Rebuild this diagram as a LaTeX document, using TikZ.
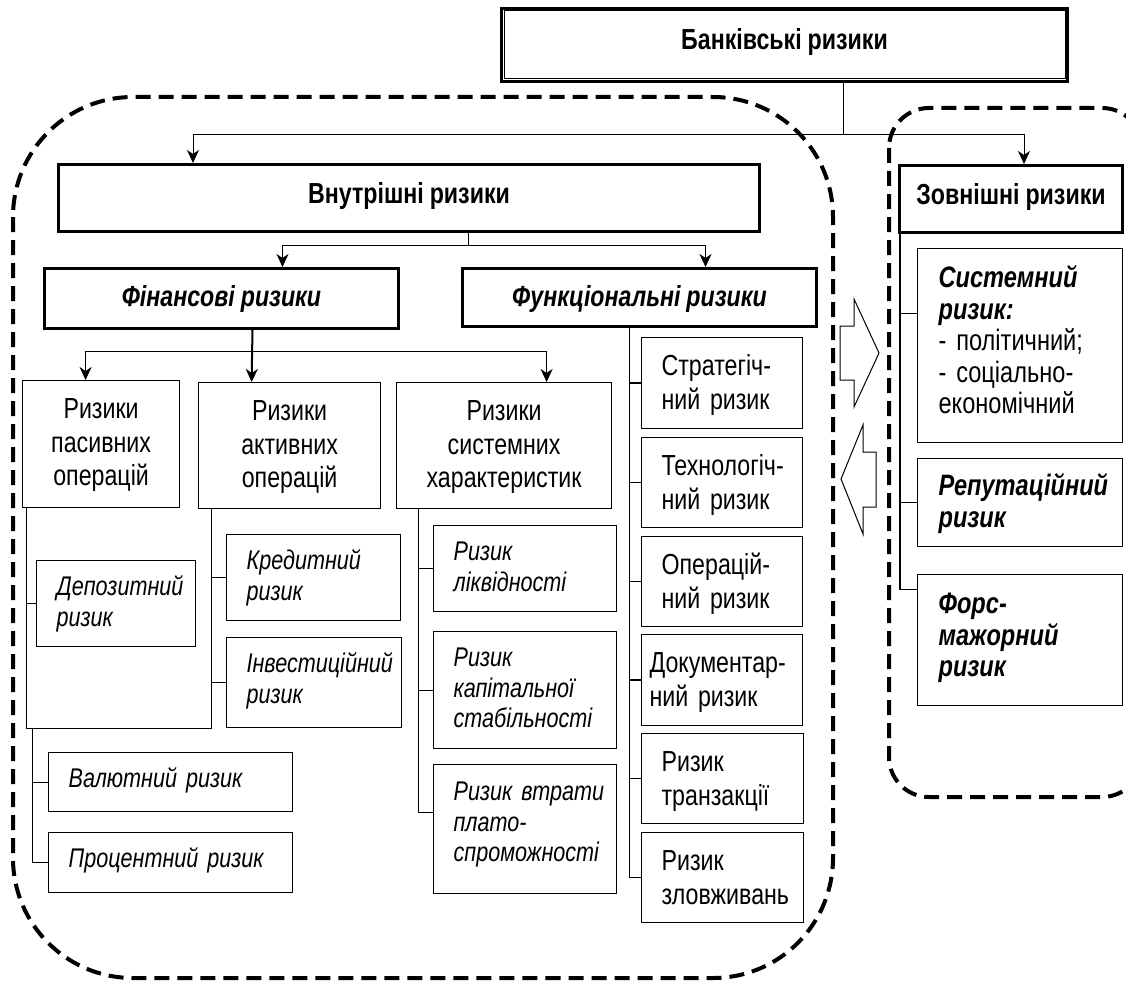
\documentclass[tikz,border=0pt]{standalone}
\usepackage{fontspec}
\setmainfont{Liberation Sans}[FakeStretch=0.8]
\usetikzlibrary{arrows.meta}
\exhyphenpenalty=10000
\hyphenpenalty=10000
\newcommand\wordgap[1]{\spaceskip=#1\relax}
\tikzset{
    title/.style={
        draw,
        line width=3pt,
        inner sep=0pt,
        anchor=north west,
        font=\fontsize{29}{33}\selectfont\bfseries\wordgap{6pt},
    },
    titleit/.style={
        title,
        font=\fontsize{29}{33}\selectfont\bfseries\itshape\wordgap{6pt},
    },
    cell/.style={
        draw,
        line width=1.2pt,
        inner xsep=20pt,
        inner ysep=0pt,
        anchor=north west,
        align=left,
    },
    reg/.style={cell, font=\fontsize{29}{33.5}\selectfont\wordgap{7.5pt}},
    grp/.style={reg, align=center, inner xsep=6pt},
    ital/.style={cell, font=\fontsize{27}{30.5}\selectfont\itshape\wordgap{7.5pt}},
    ext/.style={cell, inner xsep=21pt, font=\fontsize{29.5}{31.5}\selectfont\wordgap{7pt}},
    extb/.style={ext, font=\fontsize{29.5}{31.5}\selectfont\bfseries\itshape\wordgap{7pt}},
    sz/.style n args={3}{text width=#1, text height=#2, text depth=#3},
    conn/.style={line width=1pt},
    dashbox/.style={line width=4pt, dash pattern=on 15pt off 8pt},
    blockarrow/.style={line width=1pt, line join=miter},
}
\begin{document}
\begin{tikzpicture}[x=1pt, y=-1pt, >={Stealth[length=13pt,width=12pt,inset=4pt]}]
    \useasboundingbox (0,0) rectangle (1126,987);
    \clip (0,0) rectangle (1126,987);

    \draw[dashbox, rounded corners=120pt] (13,97) rectangle (833,978);
    \draw[dashbox, rounded corners=40pt] (889,108) rectangle (1142,797);

    \node[title, minimum width=566pt, text height=41pt, text depth=32pt] (bank) at (500,7) {Банківські ризики};
    \draw[line width=1pt] ([shift={(4,4)}]bank.north west) rectangle ([shift={(-4,-4)}]bank.south east);

    \node[title, minimum width=701pt, text height=39pt, text depth=28pt] (vn) at (57,163) {Внутрішні ризики};
    \node[title, minimum width=223pt, text height=39pt, text depth=28pt] (zov) at (898,164) {Зовнішні ризики};
    \node[titleit, minimum width=354pt, text height=38pt, text depth=22pt] (fin) at (43,267) {Фінансові ризики};
    \node[titleit, minimum width=354pt, text height=38pt, text depth=20pt] (fun) at (461,267) {Функціональні ризики};

    \node[grp, sz={145pt}{38pt}{89pt}] (pas) at (22,380) {Ризики\\пасивних\\операцій};
    \node[grp, sz={170pt}{38pt}{88pt}] (act) at (198,382) {Ризики\\активних\\операцій};
    \node[grp, sz={203pt}{38pt}{88pt}] (sys) at (396,382) {Ризики\\системних\\характеристик};

    \node[ital, sz={119pt}{35pt}{51pt}] (dep) at (36,560) {Депозитний\\ризик};
    \node[ital, sz={134pt}{35pt}{51pt}] (kred) at (226,534) {Кредитний\\ризик};
    \node[ital, sz={135pt}{35pt}{55pt}] (inv) at (226,637) {Інвестиційний\\ризик};
    \node[ital, sz={204pt}{35pt}{24pt}] (val) at (48,752) {Валютний ризик};
    \node[ital, sz={204pt}{35pt}{25pt}] (proc) at (48,832) {Процентний ризик};
    \node[ital, sz={143pt}{35pt}{51pt}] (liq) at (433,525) {Ризик\\ліквідності};
    \node[ital, sz={143pt}{35pt}{82pt}] (kap) at (433,631) {Ризик\\капітальної\\стабільності};
    \node[ital, sz={143pt}{36pt}{93pt}] (vtr) at (433,764) {\mbox{Ризик втрати}\\плато-\\спроможності};

    \node[reg, sz={121pt}{38pt}{53pt}] (strat) at (641,337) {Стратегіч-\\ний ризик};
    \node[reg, sz={121pt}{38pt}{52pt}] (tech) at (641,437) {Технологіч-\\ний ризик};
    \node[reg, sz={121pt}{38pt}{52pt}] (oper) at (641,536) {Операцій-\\ний ризик};
    \node[reg, inner xsep=8pt, sz={145pt}{38pt}{53pt}] (dok) at (641,634) {Документар-\\ний ризик};
    \node[reg, sz={122pt}{38pt}{52pt}] (tran) at (641,733) {Ризик\\транзакції};
    \node[reg, sz={122pt}{38pt}{52pt}] (zlov) at (641,832) {Ризик\\зловживань};

    \node[ext, sz={163pt}{39pt}{155pt}] (sysr) at (917,248) {\textbf{\textit{Системний}}\\\textbf{\textit{ризик:}}\\\mbox{- політичний;}\\\mbox{- соціально-}\\економічний};
    \node[extb, sz={163pt}{37pt}{51pt}] (rep) at (917,458) {Репутаційний\\ризик};
    \node[extb, sz={163pt}{39pt}{92pt}] (fors) at (917,574) {Форс-\\мажорний\\ризик};

    \draw[conn, ->] ([xshift=59pt]bank.south) |- ([xshift=136pt, yshift=28pt]vn.north west) -- ([xshift=136pt]vn.north west);
    \draw[conn, ->] ([xshift=59pt]bank.south) |- ([xshift=126pt, yshift=29pt]zov.north west) -- ([xshift=126pt]zov.north west);
    \draw[conn, ->] ([xshift=59.5pt]vn.south) |- ([xshift=61pt, yshift=22pt]fin.north) -- ([xshift=61pt]fin.north);
    \draw[conn, ->] ([xshift=59.5pt]vn.south) |- ([xshift=66pt, yshift=22pt]fun.north) -- ([xshift=66pt]fun.north);

    \draw[->, line width=2pt] ([xshift=31pt]fin.south) -- ([xshift=-38pt]act.north);
    \draw[conn, ->] ([xshift=31pt, yshift=-21pt]fin.south) -| ([xshift=-15.5pt]pas.north);
    \draw[conn, ->] ([xshift=31pt, yshift=-21pt]fin.south) -| ([xshift=42.5pt]sys.north);

    \coordinate (passtem) at ([xshift=4pt]pas.south west);
    \coordinate (actstem) at ([xshift=13pt]act.south west);
    \path (passtem |- inv.south) ++(6,0) coordinate (lowstem);
    \coordinate (sysstem) at ([xshift=22pt]sys.south west);
    \coordinate (funstem) at ([xshift=-10pt]fun.south);
    \coordinate (zovstem) at ([xshift=2pt]zov.south west);

    \draw[conn] (passtem) |- (dep.west);
    \draw[conn] (passtem) |- (actstem |- inv.south) -- (actstem);
    \draw[conn] (actstem) |- (kred.west);
    \draw[conn] (actstem) |- (inv.west);
    \draw[conn] (lowstem) |- (val.west);
    \draw[conn] (lowstem) |- (proc.west);

    \draw[conn] (sysstem) |- (liq.west);
    \draw[conn] (sysstem) |- (kap.west);
    \draw[conn] (sysstem) |- ([yshift=16.5pt]vtr.west);

    \draw[conn, line width=1.3pt] (funstem) |- (strat.west);
    \draw[conn, line width=1.3pt] (funstem) |- (tech.west);
    \draw[conn, line width=1.3pt] (funstem) |- (oper.west);
    \draw[conn, line width=1.3pt] (funstem) |- (dok.west);
    \draw[conn, line width=1.3pt] (funstem) |- (tran.west);
    \draw[conn, line width=1.3pt] (funstem) |- (zlov.west);

    \draw[conn, line width=1.3pt] (zovstem) |- ([yshift=32pt]sysr.west);
    \draw[conn, line width=1.3pt] (zovstem) |- (rep.west);
    \draw[conn, line width=1.3pt] (zovstem) |- ([yshift=50.5pt]fors.west);

    \draw[blockarrow] (840,326) -- (854,326) -- (854,299) -- (879,353) -- (854,407) -- (854,380) -- (840,380) -- cycle;
    \draw[blockarrow] (876,452) -- (863,452) -- (863,425) -- (841,479) -- (863,534) -- (863,507) -- (876,507) -- cycle;
\end{tikzpicture}
\end{document}
